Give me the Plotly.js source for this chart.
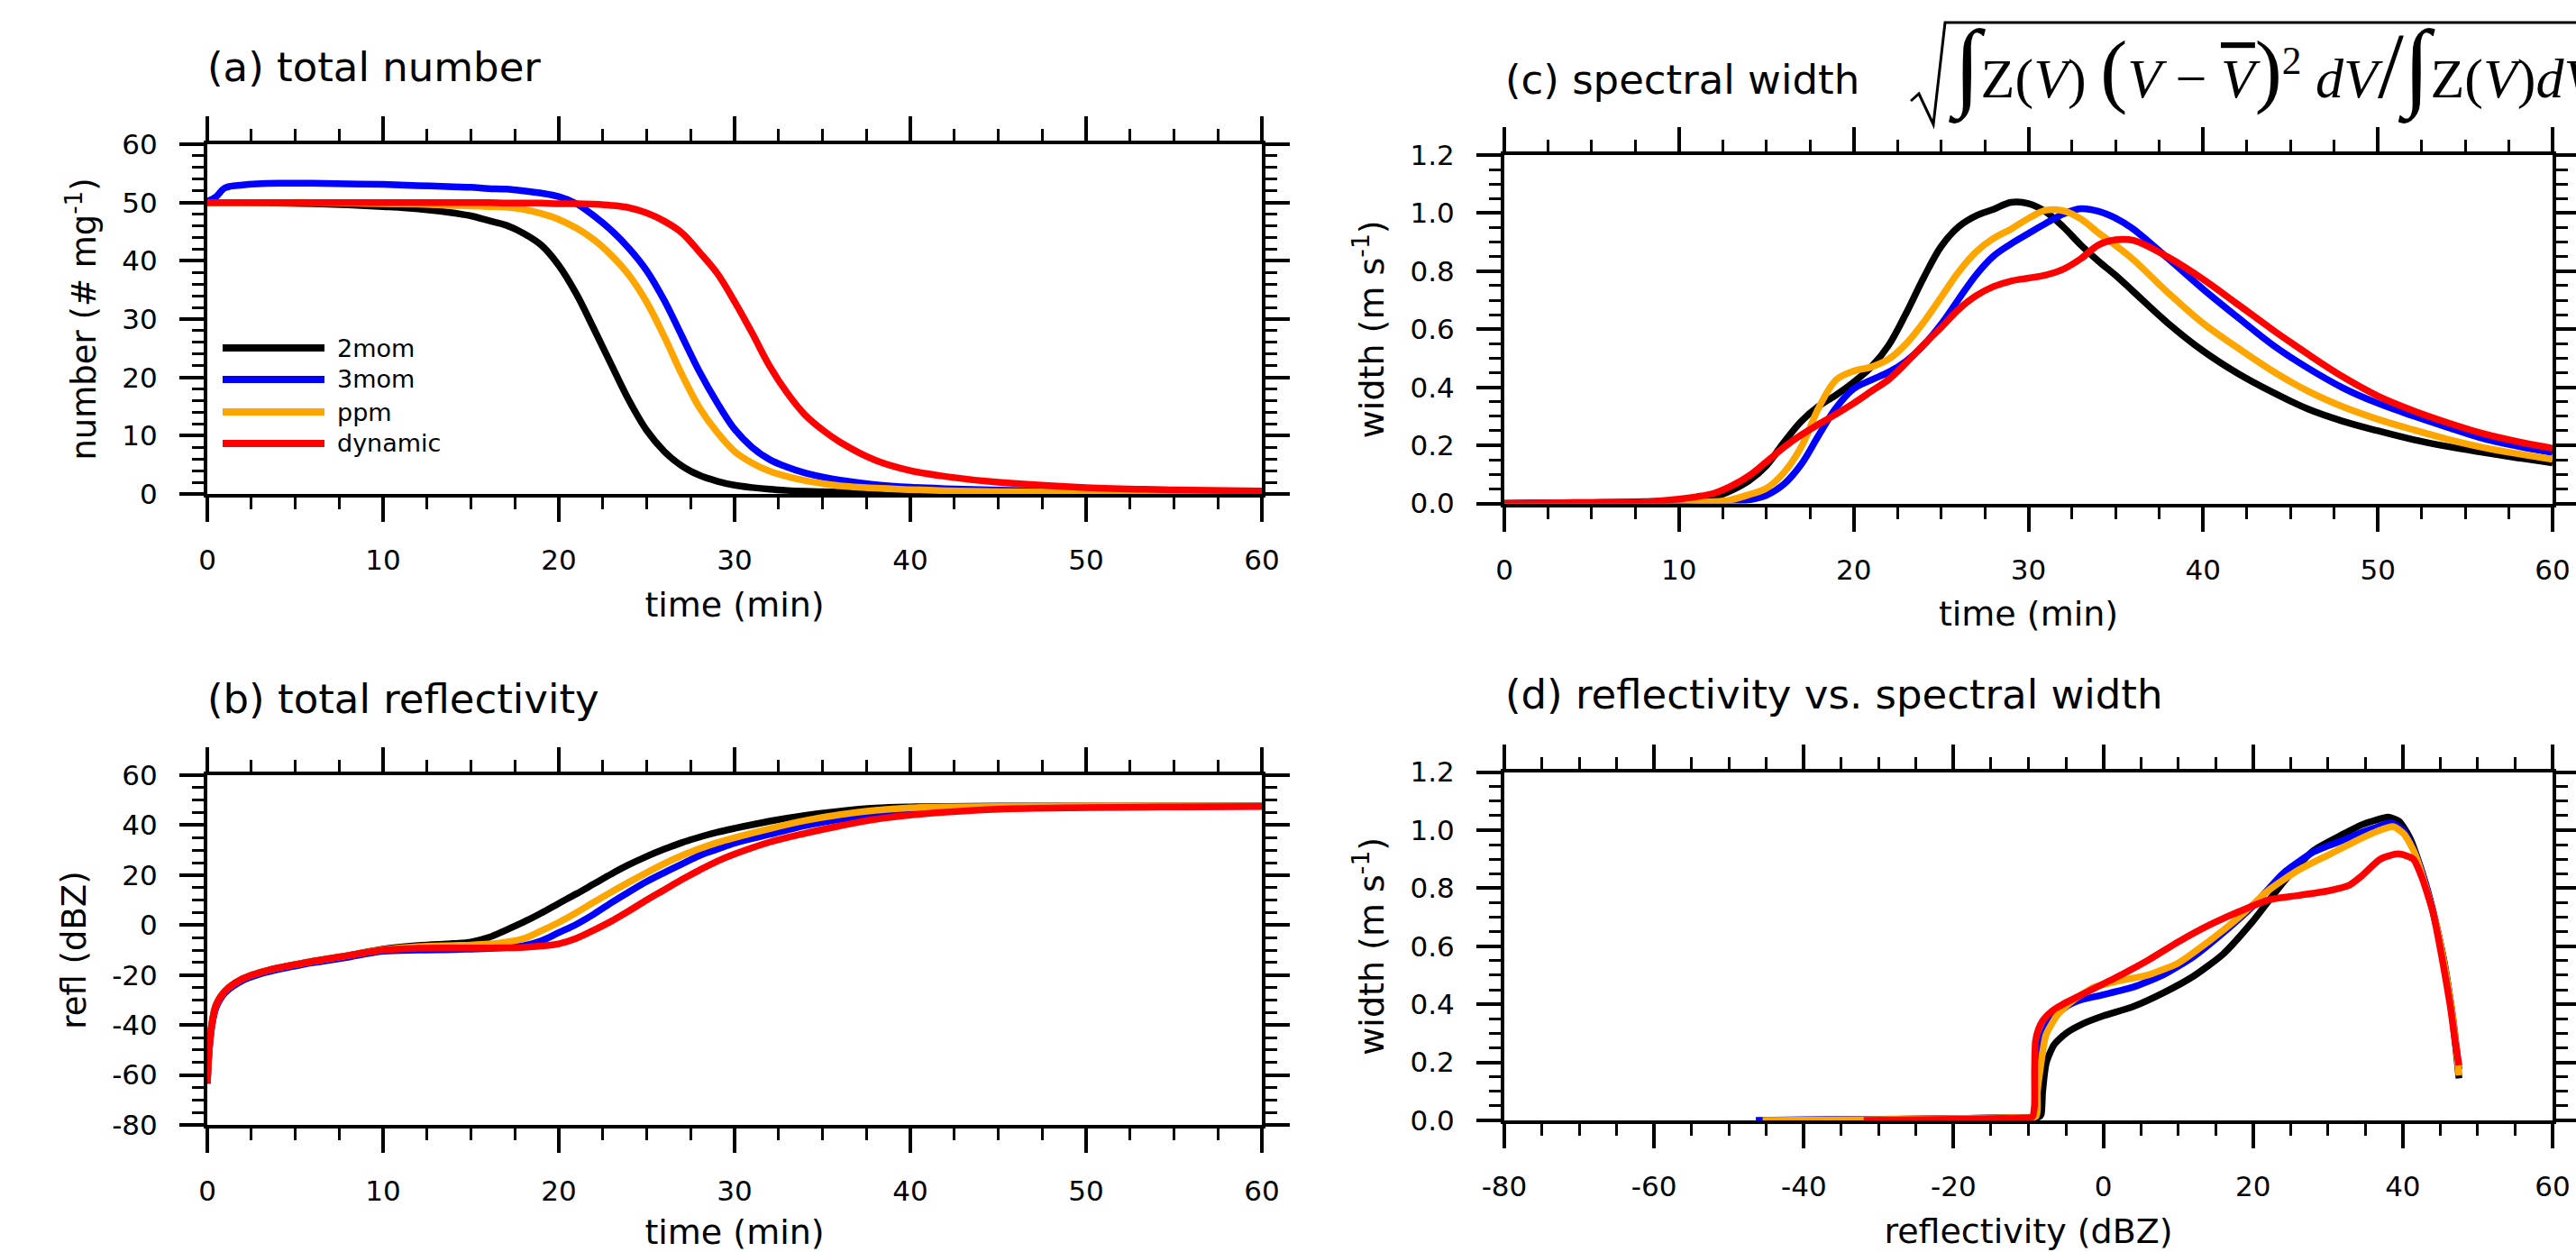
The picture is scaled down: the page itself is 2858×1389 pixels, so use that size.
<!DOCTYPE html>
<html>
<head>
<meta charset="utf-8">
<script src="https://cdn.plot.ly/plotly-3.0.1.min.js"></script>
<style>
html,body{margin:0;padding:0;background:#ffffff;}
#chart{width:2858px;height:1389px;}
</style>
</head>
<body>
<div id="chart"></div>
<script>
// ---------------- data ----------------
const seriesNames  = ['2mom', '3mom', 'ppm', 'dynamic'];
const seriesColors = ['#000000', '#0000ff', '#ffa500', '#ff0000'];

// (a) total number (# mg-1) vs time (min)
const time_a = [0,0.5,1,2,4,6,8,10,12,14,15,16,17,18,19,20,21,22,23,24,25,26,27,28,29,30,31,32,33,34,35,36,38,40,42,45,50,55,60];
const number_2mom    = [50.0,50.0,50.0,50.0,49.9,49.8,49.6,49.3,48.9,48.2,47.7,46.9,46.1,44.7,42.7,39.2,34.3,28.3,22.1,16.0,10.9,7.3,4.8,3.2,2.2,1.5,1.1,0.8,0.6,0.47,0.38,0.3,0.2,0.14,0.1,0.06,0.03,0.02,0.01];
const number_3mom    = [50.2,51.0,52.5,53.0,53.3,53.3,53.2,53.1,52.9,52.7,52.6,52.4,52.3,52.0,51.6,51.0,49.8,47.7,45.2,42.1,38.3,33.2,27.1,21.0,15.7,11.1,8.0,5.9,4.6,3.6,2.9,2.35,1.6,1.15,0.9,0.65,0.4,0.28,0.2];
const number_ppm     = [50,50,50,50,50,50,49.9,49.8,49.7,49.5,49.4,49.3,49.2,48.8,48.1,47.1,45.6,43.6,40.9,37.5,32.9,27.0,20.5,14.8,10.6,7.3,5.3,3.9,3.0,2.3,1.8,1.4,1.0,0.75,0.55,0.4,0.25,0.18,0.12];
const number_dynamic = [50,50,50,50,50,50,50,50,50,50,50,50,49.9,49.9,49.9,49.8,49.8,49.7,49.5,49.1,48.2,46.8,44.8,41.5,37.9,33.0,27.6,21.9,17.3,13.6,11.0,8.9,5.8,4.0,3.0,2.0,1.1,0.7,0.5];

// (b) total reflectivity (dBZ) vs time (min)
const time_b = [0,0.1,0.25,0.5,1,2,3,4,5,6,8,10,12,14,15,16,17,18,19,20,21,22,23,24,25,26,27,28,29,30,32,34,36,38,40,42,45,50,55,60];
const refl_2mom    = [-63,-50,-40,-32,-26.5,-21.5,-19,-17.2,-15.8,-14.5,-12.2,-9.6,-8.2,-7.4,-6.8,-5.0,-2.0,1.2,4.8,8.7,12.5,16.5,20.5,24.2,27.5,30.4,33.0,35.2,37.1,38.7,41.6,43.9,45.6,46.8,47.3,47.5,47.6,47.6,47.6,47.6];
const refl_3mom    = [-63.5,-51,-41,-33,-27.2,-22.2,-19.6,-17.8,-16.4,-15.1,-12.9,-10.5,-10.0,-9.8,-9.6,-9.4,-9.0,-8.3,-6.3,-3.0,0.3,4.4,9.0,13.3,17.4,21.0,24.4,27.8,30.3,32.8,36.3,39.8,42.3,44.1,45.3,46.2,47.0,47.4,47.5,47.6];
const refl_ppm     = [-63,-50,-40,-32,-26.5,-21.5,-19,-17.2,-15.8,-14.5,-12.2,-9.8,-8.6,-8.2,-8.0,-7.6,-6.8,-5.4,-2.3,1.1,5.0,9.2,13.3,17.2,21.0,24.6,27.8,30.6,33.0,35.0,38.6,41.8,44.2,45.9,46.9,47.3,47.5,47.6,47.6,47.6];
const refl_dynamic = [-63,-50,-40,-32,-26.5,-21.5,-19,-17.2,-15.8,-14.5,-12.2,-10.0,-9.3,-9.2,-9.2,-9.2,-9.1,-8.9,-8.4,-7.5,-5.3,-2.0,1.6,5.7,10.0,14.1,18.2,22.0,25.5,28.4,33.2,36.7,39.7,42.3,44.0,45.2,46.4,47.0,47.3,47.5];

// (c) spectral width (m s-1) vs time (min)
const time_c = [0,2,4,6,8,10,11,12,13,14,15,16,17,18,19,20,21,22,23,24,25,26,27,28,29,30,31,32,33,34,35,36,38,40,42,44,46,48,50,52,54,56,58,60];
const width_2mom    = [0.0,0.002,0.003,0.004,0.006,0.009,0.012,0.022,0.045,0.078,0.13,0.21,0.283,0.335,0.374,0.418,0.47,0.545,0.655,0.777,0.885,0.953,0.991,1.013,1.037,1.033,1.004,0.952,0.89,0.835,0.785,0.73,0.62,0.525,0.447,0.382,0.325,0.283,0.25,0.22,0.196,0.176,0.157,0.14];
const width_3mom    = [0.0,0.001,0.002,0.002,0.003,0.003,0.003,0.003,0.004,0.012,0.028,0.066,0.135,0.235,0.33,0.395,0.425,0.452,0.49,0.545,0.617,0.703,0.787,0.852,0.894,0.93,0.965,0.997,1.015,1.006,0.982,0.945,0.843,0.738,0.64,0.545,0.466,0.398,0.345,0.302,0.262,0.224,0.197,0.175];
const width_ppm     = [0.0,0.0,0.001,0.002,0.003,0.004,0.005,0.006,0.013,0.03,0.052,0.106,0.195,0.33,0.426,0.456,0.47,0.497,0.55,0.624,0.71,0.797,0.866,0.913,0.945,0.982,1.01,1.008,0.98,0.932,0.888,0.84,0.725,0.62,0.535,0.455,0.387,0.333,0.29,0.254,0.221,0.193,0.171,0.152];
const width_dynamic = [0.0,0.001,0.002,0.003,0.005,0.015,0.023,0.035,0.06,0.095,0.143,0.193,0.236,0.273,0.308,0.345,0.386,0.427,0.484,0.547,0.606,0.668,0.715,0.747,0.766,0.776,0.787,0.807,0.843,0.89,0.908,0.906,0.848,0.772,0.685,0.597,0.514,0.436,0.37,0.32,0.278,0.241,0.213,0.19];

// (d) reflectivity (dBZ) vs spectral width (m s-1)
const dRefl_2mom     = [-44,-30,-20,-12,-8.6,-8.3,-8.1,-7.6,-6.6,-5.0,-2.8,0.0,3.98,7.99,12.0,16.0,20.0,24.1,28.1,32.1,34.5,36.5,38.0,39.5,41.0,42.5,44.0,45.5,46.5,47.2,47.5];
const dWidth_2mom    = [0.0,0.003,0.006,0.01,0.012,0.02,0.1,0.2,0.26,0.3,0.332,0.36,0.392,0.439,0.496,0.573,0.687,0.822,0.93,0.987,1.018,1.035,1.045,1.03,0.97,0.86,0.72,0.55,0.38,0.22,0.145];
const dRefl_3mom     = [-46.4,-40,-30,-20,-12,-9.3,-9.1,-8.86,-8.26,-7.26,-5.25,-3.25,-0.03,3.98,7.99,12.0,16.0,20.0,24.1,28.1,32.1,34.5,36.5,38.5,40.0,41.5,43.0,44.5,45.8,46.7,47.3,47.5];
const dWidth_3mom    = [0.0,0.002,0.004,0.006,0.01,0.014,0.1,0.17,0.273,0.335,0.387,0.413,0.433,0.459,0.501,0.563,0.646,0.739,0.853,0.925,0.966,0.992,1.01,1.025,1.0,0.93,0.82,0.67,0.5,0.35,0.22,0.175];
const dRefl_ppm      = [-45.5,-30,-20,-12,-9.0,-8.8,-8.46,-7.66,-6.05,-4.05,-1.24,1.97,5.99,10.0,14.0,18.0,22.0,26.1,30.1,34.5,36.5,38.7,40.2,41.6,43.0,44.5,45.8,46.7,47.3,47.5];
const dWidth_ppm     = [0.0,0.003,0.006,0.01,0.014,0.1,0.17,0.294,0.366,0.413,0.459,0.48,0.501,0.542,0.615,0.697,0.791,0.863,0.915,0.972,0.995,1.012,0.985,0.92,0.81,0.67,0.5,0.35,0.21,0.155];
const dRefl_dynamic  = [-32,-20,-12,-9.5,-9.2,-9.18,-9.06,-8.66,-8.06,-6.85,-4.85,-2.04,1.97,5.99,10.0,14.0,18.0,22.0,26.1,30.1,32.9,34.5,37.0,39.4,41.4,42.5,44.0,45.3,46.3,47.0,47.5];
const dWidth_dynamic = [0.0,0.004,0.008,0.012,0.05,0.17,0.273,0.314,0.345,0.377,0.408,0.444,0.496,0.552,0.615,0.671,0.718,0.759,0.775,0.791,0.811,0.842,0.9,0.918,0.9,0.84,0.72,0.55,0.4,0.27,0.19];

// tick values and labels
const timeTicks   = [0,10,20,30,40,50,60];
const numberTicks = [0,10,20,30,40,50,60];
const reflTicks   = [-80,-60,-40,-20,0,20,40,60];
const widthTicks  = [0,0.2,0.4,0.6,0.8,1.0,1.2];
const timeTickText   = timeTicks.map(String);
const numberTickText = numberTicks.map(String);
const reflTickText   = reflTicks.map(String);
const widthTickText  = widthTicks.map(v => v.toFixed(1));

const panelTitles = ['(a) total number', '(b) total reflectivity', '(c) spectral width', '(d) reflectivity vs. spectral width'];

// ---------------- layout helpers ----------------
const W = 2858, H = 1389;
const px = v => v / W;
const py = v => 1 - v / H;
const FONT = 'DejaVu Sans';

const numberSeries = [number_2mom, number_3mom, number_ppm, number_dynamic];
const reflSeries   = [refl_2mom, refl_3mom, refl_ppm, refl_dynamic];
const widthSeries  = [width_2mom, width_3mom, width_ppm, width_dynamic];
const dReflSeries  = [dRefl_2mom, dRefl_3mom, dRefl_ppm, dRefl_dynamic];
const dWidthSeries = [dWidth_2mom, dWidth_3mom, dWidth_ppm, dWidth_dynamic];

const traces = [];
function addPanel(xs, ys, xa, ya, smooth) {
  for (let i = 0; i < 4; i++) {
    traces.push({
      type: 'scatter', mode: 'lines', name: seriesNames[i],
      x: Array.isArray(xs[0]) ? xs[i] : xs, y: ys[i],
      xaxis: xa, yaxis: ya, showlegend: false, hoverinfo: 'skip',
      line: {color: seriesColors[i], width: 7.5, shape: 'spline', smoothing: smooth}
    });
  }
}
addPanel(time_a, numberSeries, 'x', 'y', 1.0);
addPanel(time_b, reflSeries, 'x2', 'y2', 1.0);
addPanel(time_c, widthSeries, 'x3', 'y3', 1.0);
addPanel(dReflSeries, dWidthSeries, 'x4', 'y4', 0.6);

function axis(o) {
  return {
    domain: o.domain, anchor: o.anchor, range: o.range,
    showline: true, linewidth: 4, linecolor: '#000', mirror: 'ticks',
    ticks: 'outside', ticklen: 27, tickwidth: 4, tickcolor: '#000',
    showgrid: false, zeroline: false, fixedrange: true,
    tickmode: 'array', tickvals: o.tickvals, ticktext: o.ticktext,
    tickfont: {family: FONT, size: 31, color: '#000'},
    ticklabelstandoff: o.standoff,
    minor: {tickmode: 'linear', tick0: o.range[0], dtick: o.minor, ticks: 'outside',
            ticklen: 13, tickwidth: 3, tickcolor: '#000', showgrid: false},
    title: {text: o.title, font: {family: FONT, size: o.tsize, color: '#000'}, standoff: o.tstand}
  };
}

const xA = [px(230), px(1400)], xC = [px(1669), px(2832)];
const yA = [py(548), py(160)], yB = [py(1248), py(860)];
const yC = [py(558.5), py(172)], yD = [py(1243), py(856.5)];

const layout = {
  width: W, height: H,
  margin: {l: 0, r: 0, t: 0, b: 0, pad: 0},
  paper_bgcolor: '#ffffff', plot_bgcolor: '#ffffff',
  showlegend: false,
  xaxis:  axis({domain: xA, anchor: 'y',  range: [0, 60], tickvals: timeTicks, ticktext: timeTickText, minor: 2.5, standoff: 16, title: 'time (min)', tsize: 38, tstand: 20}),
  yaxis:  axis({domain: yA, anchor: 'x',  range: [0, 60], tickvals: numberTicks, ticktext: numberTickText, minor: 2, standoff: 18, title: 'number (# mg<sup>-1</sup>)', tsize: 37, tstand: 18}),
  xaxis2: axis({domain: xA, anchor: 'y2', range: [0, 60], tickvals: timeTicks, ticktext: timeTickText, minor: 2.5, standoff: 16, title: 'time (min)', tsize: 38, tstand: 22}),
  yaxis2: axis({domain: yB, anchor: 'x2', range: [-80, 60], tickvals: reflTicks, ticktext: reflTickText, minor: 5, standoff: 18, title: 'refl (dBZ)', tsize: 37, tstand: 18}),
  xaxis3: axis({domain: xC, anchor: 'y3', range: [0, 60], tickvals: timeTicks, ticktext: timeTickText, minor: 2.5, standoff: 16, title: 'time (min)', tsize: 38, tstand: 20}),
  yaxis3: axis({domain: yC, anchor: 'x3', range: [0, 1.2], tickvals: widthTicks, ticktext: widthTickText, minor: 0.05, standoff: 18, title: 'width (m s<sup>-1</sup>)', tsize: 38, tstand: 18}),
  xaxis4: axis({domain: xC, anchor: 'y4', range: [-80, 60], tickvals: reflTicks, ticktext: reflTickText, minor: 5, standoff: 16, title: 'reflectivity (dBZ)', tsize: 38, tstand: 20}),
  yaxis4: axis({domain: yD, anchor: 'x4', range: [0, 1.2], tickvals: widthTicks, ticktext: widthTickText, minor: 0.05, standoff: 18, title: 'width (m s<sup>-1</sup>)', tsize: 38, tstand: 18}),
  annotations: [],
  shapes: []
};

// panel titles
const titlePos = [[228, 75], [228, 775], [1668, 88], [1668, 770]];
panelTitles.forEach((t, i) => {
  layout.annotations.push({
    text: t, xref: 'paper', yref: 'paper', x: px(titlePos[i][0]), y: py(titlePos[i][1]),
    xanchor: 'left', yanchor: 'middle', showarrow: false,
    font: {family: FONT, size: 45, color: '#000'}
  });
});

// formula next to (c) (runs off the right edge, as in the original)
layout.annotations.push({
  text: '<span style="font-size:108px">∫</span>Z(<i>V</i>) <span style="font-size:90px">(</span><i>V</i> − <span style="text-decoration:overline"><i>V</i></span><span style="font-size:90px">)</span><sup>2</sup> <i>dV</i><span style="font-size:104px">/</span><span style="font-size:108px">∫</span>Z(<i>V</i>)<i>dV</i>',
  xref: 'paper', yref: 'paper', x: px(2160), y: py(74),
  xanchor: 'left', yanchor: 'middle', showarrow: false,
  font: {family: 'Liberation Serif', size: 62, color: '#000'}
});
layout.shapes.push({
  type: 'path', xref: 'paper', yref: 'paper',
  path: `M ${px(2120)},${py(112)} L ${px(2129)},${py(104)} L ${px(2145)},${py(138)} L ${px(2158)},${py(25)} L ${px(2858)},${py(25)}`,
  line: {color: '#000', width: 3}
});

// legend for (a)
const legendY = [386, 421, 457, 492];
seriesNames.forEach((n, i) => {
  layout.shapes.push({
    type: 'line', xref: 'paper', yref: 'paper',
    x0: px(247), x1: px(360), y0: py(legendY[i]), y1: py(legendY[i]),
    line: {color: seriesColors[i], width: 8}
  });
  layout.annotations.push({
    text: n, xref: 'paper', yref: 'paper', x: px(372), y: py(legendY[i]),
    xanchor: 'left', yanchor: 'middle', showarrow: false,
    font: {family: FONT, size: 27, color: '#000'}
  });
});

Plotly.newPlot('chart', traces, layout, {staticPlot: true, displayModeBar: false, responsive: false});
</script>
</body>
</html>
